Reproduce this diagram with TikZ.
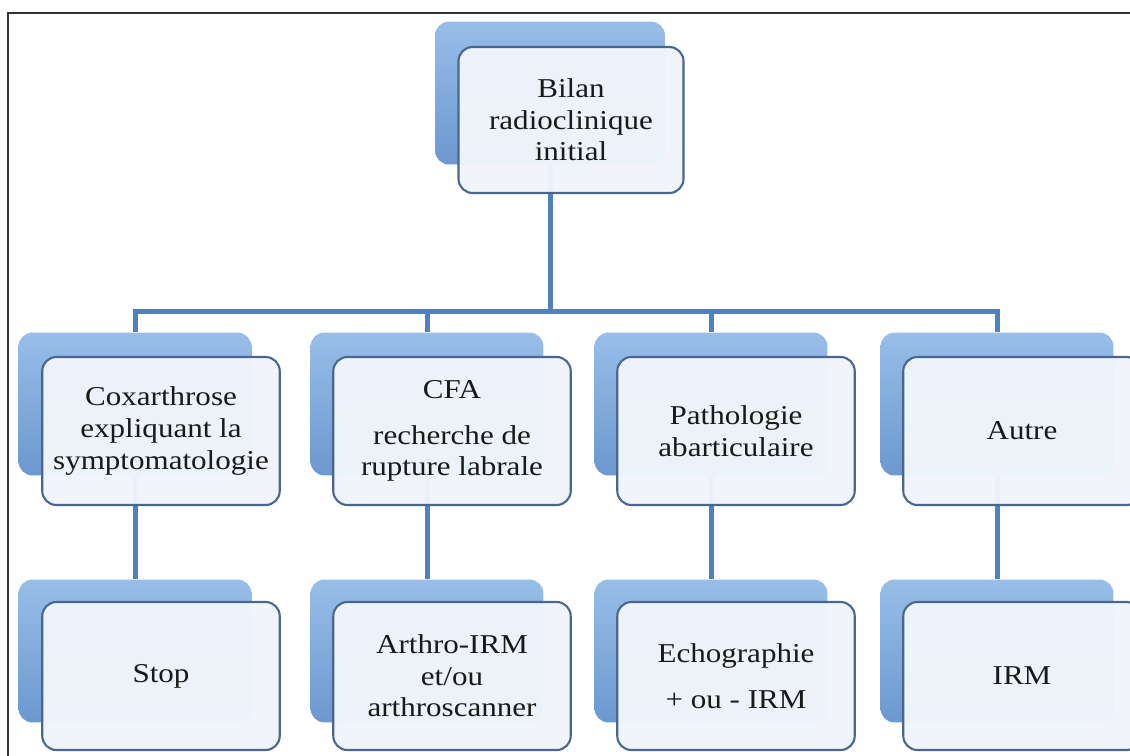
\documentclass[tikz,border=0pt]{standalone}
\usepackage{fontspec}
\setmainfont{Liberation Serif}[FakeStretch=1.14]
\usetikzlibrary{backgrounds}

\definecolor{linkblue}{RGB}{79,129,189}
\definecolor{backtop}{RGB}{152,190,232}
\definecolor{backbot}{RGB}{108,152,208}
\definecolor{frontline}{RGB}{72,102,142}
\definecolor{frontfill}{RGB}{241,245,251}

\begin{document}
\begin{tikzpicture}[
    x=0.02cm, y=-0.02cm,
    backbox/.style={rounded corners=8pt, top color=backtop, bottom color=backbot,
        minimum width=4.66cm, minimum height=2.86cm, inner sep=0pt},
    frontbox/.style={draw=frontline, line width=1.2pt, rounded corners=8pt,
        fill=frontfill, fill opacity=0.97, text opacity=1, text=black!90,
        minimum width=4.75cm, minimum height=2.96cm, inner sep=2pt, align=center,
        font=\fontsize{15.5}{18}\selectfont},
    link/.style={draw=linkblue, line width=0.1cm}
]
\clip (0,0) rectangle (1130,755);

% cadre
\draw[line width=1.2pt, black!80] (8,760) -- (8,13) -- (1135,13);

% niveau 1
\node[backbox, minimum width=4.6cm] (bilanback) at (550,93) {};
\node[frontbox, minimum width=4.5cm, minimum height=2.92cm] (bilan) at (571,120)
    {Bilan\\radioclinique\\initial};

% niveau 2
\node[backbox] (coxback)   at (135,404) {};
\node[backbox] (cfaback)   at (427,404) {};
\node[backbox] (pathoback) at (711,404) {};
\node[backbox] (autreback) at (997,404) {};

\node[frontbox] (cox)   at (161,431) {Coxarthrose\\expliquant la\\symptomatologie};
\node[frontbox] (cfa)   at (452,431) {CFA\\[0.28cm]recherche de\\rupture labrale};
\node[frontbox] (patho) at (736,431) {Pathologie\\abarticulaire};
\node[frontbox] (autre) at (1022,431) {Autre};

% niveau 3
\node[backbox] (stopback)  at (135,651) {};
\node[backbox] (arthback)  at (427,651) {};
\node[backbox] (echoback)  at (711,651) {};
\node[backbox] (irmback)   at (997,651) {};

\node[frontbox] (stop)  at (161,676) {Stop};
\node[frontbox] (arth)  at (452,676) {Arthro-IRM\\et/ou\\arthroscanner};
\node[frontbox] (echo)  at (736,676) {Echographie\\[0.3cm]+ ou - IRM};
\node[frontbox] (irm)   at (1022,676) {IRM};

% liaisons
\coordinate (bar) at (0,311);
\begin{scope}[on background layer]
\draw[link] (bilanback.south) -- (bilanback.south |- bar);
\draw[link] (coxback.north) -- (coxback.north |- bar) -- (autreback.north |- bar) -- (autreback.north);
\draw[link] (cfaback.north) -- (cfaback.north |- bar);
\draw[link] (pathoback.north) -- (pathoback.north |- bar);

\draw[link] (coxback.south) -- (stopback.north);
\draw[link] (cfaback.south) -- (arthback.north);
\draw[link] (pathoback.south) -- (echoback.north);
\draw[link] (autreback.south) -- (irmback.north);
\end{scope}

\end{tikzpicture}
\end{document}
